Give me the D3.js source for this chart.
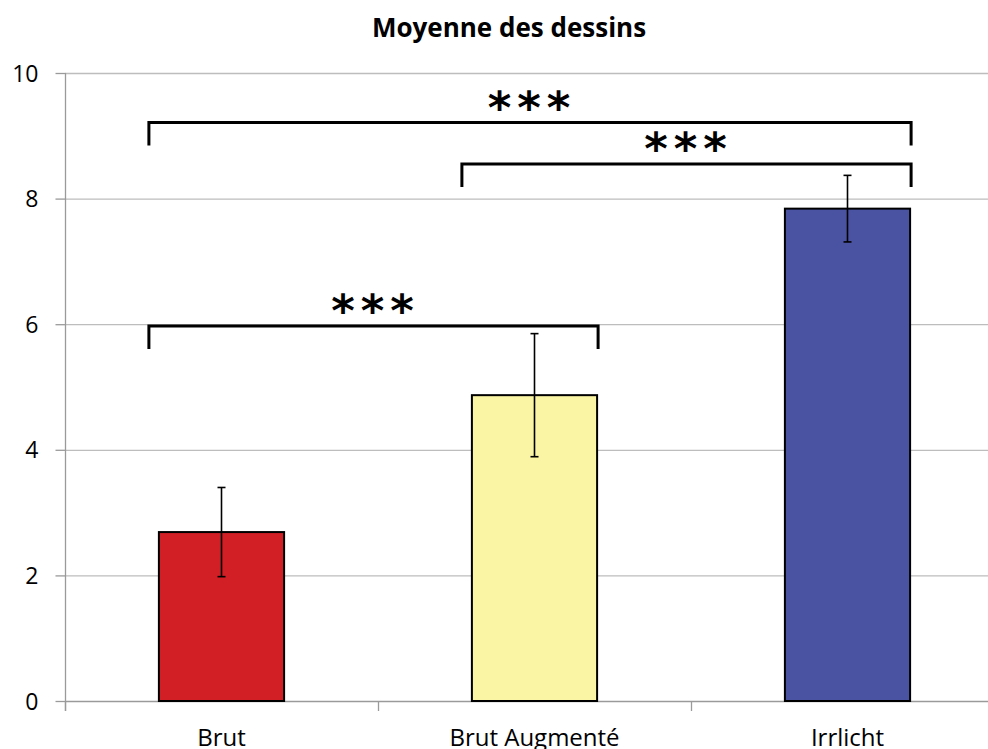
<!DOCTYPE html>
<html>
<head>
<meta charset="utf-8">
<script src="https://cdn.jsdelivr.net/npm/d3@7"></script>
<style>
  html, body { margin: 0; padding: 0; background: #fff; }
  svg { display: block; }
</style>
</head>
<body>
<svg id="chart" width="988" height="749"></svg>
<script>
// Mean score per drawing condition, with error bar half-widths
const categories = ["Brut", "Brut Augmenté", "Irrlicht"];
const means = [2.69, 4.87, 7.84];
const errors = [0.71, 0.98, 0.53];
const barColors = ["#d21f26", "#faf4a5", "#4a52a2"];
const yTicks = [0, 2, 4, 6, 8, 10];

// Significance brackets: [from category, to category, level]
const bracketFrom = ["Brut", "Brut Augmenté", "Brut"];
const bracketTo = ["Irrlicht", "Irrlicht", "Brut Augmenté"];
const bracketLevel = [9.21, 8.55, 5.97];
const bracketLabel = ["***", "***", "***"];

const svg = d3.select("#chart");
const margin = { left: 65, right: -16, top: 73, bottom: 48 };
const W = 988, H = 749;

const x = d3.scaleBand()
  .domain(categories)
  .range([margin.left, W - margin.right])
  .paddingInner(0.6)
  .paddingOuter(0.3);

const y = d3.scaleLinear()
  .domain([0, 10])
  .range([H - margin.bottom, margin.top]);

const font = "Open Sans, 'Noto Sans', sans-serif";

// Horizontal gridlines
svg.append("g")
  .selectAll("line")
  .data(yTicks.filter(d => d > 0))
  .join("line")
  .attr("x1", margin.left)
  .attr("x2", W)
  .attr("y1", d => y(d) + 0.5)
  .attr("y2", d => y(d) + 0.5)
  .attr("stroke", "#bdbdbd")
  .attr("stroke-width", 1.3);

// Y axis
const yAxis = svg.append("g")
  .attr("transform", `translate(${margin.left + 0.5},0)`)
  .call(d3.axisLeft(y).tickValues(yTicks).tickSize(10).tickPadding(17).tickFormat(d3.format("d")));
yAxis.select(".domain").attr("stroke", "#9a9a9a").attr("stroke-width", 1.3)
  .attr("d", `M0,${y(10)}V${y(0) + 10}`);
yAxis.selectAll(".tick line").attr("stroke", "#9a9a9a").attr("stroke-width", 1.3);
yAxis.selectAll(".tick text")
  .attr("font-family", font)
  .attr("font-size", 23)
  .attr("fill", "#000")
  .attr("dy", "0.35em");

// X axis baseline and category separators
const step = x.step();
const sepX = d3.range(categories.length + 1).map(i => x.range()[0] + i * step);
svg.append("line")
  .attr("x1", margin.left).attr("x2", W)
  .attr("y1", y(0) + 0.5).attr("y2", y(0) + 0.5)
  .attr("stroke", "#9a9a9a").attr("stroke-width", 1.3);
svg.append("g").selectAll("line")
  .data(sepX)
  .join("line")
  .attr("x1", d => d + 0.5).attr("x2", d => d + 0.5)
  .attr("y1", y(0)).attr("y2", y(0) + 10)
  .attr("stroke", "#9a9a9a").attr("stroke-width", 1.3);

// Category labels
svg.append("g").selectAll("text")
  .data(categories)
  .join("text")
  .attr("x", d => x(d) + x.bandwidth() / 2)
  .attr("y", y(0) + 45)
  .attr("text-anchor", "middle")
  .attr("font-family", font)
  .attr("font-size", 24)
  .attr("fill", "#000")
  .text(d => d);

// Bars
svg.append("g").selectAll("rect")
  .data(categories)
  .join("rect")
  .attr("x", d => x(d))
  .attr("y", (d, i) => y(means[i]))
  .attr("width", x.bandwidth())
  .attr("height", (d, i) => y(0) - y(means[i]))
  .attr("fill", (d, i) => barColors[i])
  .attr("stroke", "#000")
  .attr("stroke-width", 2);

// Error bars
const eb = svg.append("g").attr("stroke", "#000").attr("stroke-width", 1.6);
categories.forEach((c, i) => {
  const cx = x(c) + x.bandwidth() / 2;
  const top = y(means[i] + errors[i]);
  const bot = y(means[i] - errors[i]);
  eb.append("line").attr("x1", cx).attr("x2", cx).attr("y1", top).attr("y2", bot);
  eb.append("line").attr("x1", cx - 4).attr("x2", cx + 4).attr("y1", top).attr("y2", top);
  eb.append("line").attr("x1", cx - 4).attr("x2", cx + 4).attr("y1", bot).attr("y2", bot);
});

// Significance brackets
const br = svg.append("g");
bracketLevel.forEach((lvl, i) => {
  const x1 = x(bracketFrom[i]) - 10;
  const x2 = x(bracketTo[i]) + x.bandwidth() + 1;
  const yy = y(lvl);
  br.append("path")
    .attr("d", `M${x1},${yy + 23}V${yy}H${x2}V${yy + 23}`)
    .attr("fill", "none")
    .attr("stroke", "#000")
    .attr("stroke-width", 3);
  br.append("text")
    .attr("x", (x1 + x2) / 2 + 2)
    .attr("y", yy)
    .attr("text-anchor", "middle")
    .attr("font-family", "DejaVu Sans, sans-serif")
    .attr("font-weight", "bold")
    .attr("font-size", 45)
    .attr("letter-spacing", 6)
    .attr("fill", "#000")
    .text(bracketLabel[i]);
});

// Title
svg.append("text")
  .attr("x", 509)
  .attr("y", 37)
  .attr("text-anchor", "middle")
  .attr("font-family", font)
  .attr("font-weight", "bold")
  .attr("font-size", 26)
  .attr("fill", "#000")
  .text("Moyenne des dessins");
</script>
</body>
</html>
